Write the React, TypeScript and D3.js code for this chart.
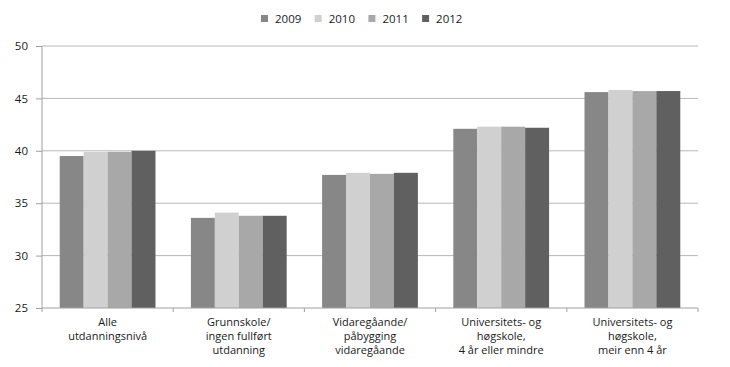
import React, { useEffect, useRef } from 'react';
import * as d3 from 'd3';

// chart data
const categories = [
  ['Alle', 'utdanningsnivå'],
  ['Grunnskole/', 'ingen fullført', 'utdanning'],
  ['Vidaregåande/', 'påbygging', 'vidaregåande'],
  ['Universitets- og', 'høgskole,', '4 år eller mindre'],
  ['Universitets- og', 'høgskole,', 'meir enn 4 år'],
];
const years = ['2009', '2010', '2011', '2012'];
const values2009 = [39.5, 33.6, 37.7, 42.1, 45.6];
const values2010 = [39.9, 34.1, 37.9, 42.3, 45.8];
const values2011 = [39.9, 33.8, 37.8, 42.3, 45.7];
const values2012 = [40.0, 33.8, 37.9, 42.2, 45.7];
const yTicks = [25, 30, 35, 40, 45, 50];
const colors = ['#888787', '#d0d0d0', '#a8a8a8', '#606060'];

const W = 730;
const H = 367;
const FONT = '"Open Sans", "Noto Sans", sans-serif';

export default function App() {
  const ref = useRef<SVGSVGElement>(null);

  useEffect(() => {
    const svg = d3.select(ref.current);
    svg.selectAll('*').remove();

    const margin = { top: 46, right: 32, bottom: 59, left: 42 };
    const width = W - margin.left - margin.right;
    const height = H - margin.top - margin.bottom;
    const series = [values2009, values2010, values2011, values2012];

    const x0 = d3.scaleBand<number>()
      .domain(categories.map((_, i) => i))
      .range([0, width])
      .paddingInner(0.27)
      .paddingOuter(0.135);
    const x1 = d3.scaleBand<number>()
      .domain(years.map((_, i) => i))
      .range([0, x0.bandwidth()]);
    const y = d3.scaleLinear().domain([25, 50]).range([height, 0]);

    const g = svg.append('g')
      .attr('transform', 'translate(' + margin.left + ',' + margin.top + ')');

    // gridlines
    g.selectAll('.grid')
      .data(yTicks.slice(1))
      .enter().append('line')
      .attr('x1', 0).attr('x2', width)
      .attr('y1', d => y(d)).attr('y2', d => y(d))
      .attr('stroke', '#b8b8b8').attr('stroke-width', 1);

    // bars
    const grp = g.selectAll('.grp')
      .data(categories)
      .enter().append('g')
      .attr('transform', (_, i) => 'translate(' + x0(i) + ',0)');
    grp.selectAll('rect')
      .data((_, i) => series.map((s, k) => ({ k, v: s[i] })))
      .enter().append('rect')
      .attr('x', d => x1(d.k)!)
      .attr('width', x1.bandwidth())
      .attr('y', d => y(d.v))
      .attr('height', d => height - y(d.v))
      .attr('fill', d => colors[d.k]);

    // y axis
    const yAxis = g.append('g')
      .call(d3.axisLeft(y).tickValues(yTicks).tickSize(6).tickPadding(8));
    yAxis.select('.domain').attr('stroke', '#a0a0a0').attr('d', 'M0,' + height + 'V0');
    yAxis.selectAll('line').attr('stroke', '#a0a0a0');
    yAxis.selectAll('text')
      .style('font-family', FONT).style('font-size', '11.5px').attr('fill', '#1a1a1a');

    // x axis
    const xa = g.append('g').attr('transform', 'translate(0,' + height + ')');
    xa.append('line').attr('x1', 0).attr('x2', width)
      .attr('stroke', '#a0a0a0');
    const step = width / categories.length;
    xa.selectAll('.tick')
      .data(d3.range(categories.length + 1))
      .enter().append('line')
      .attr('x1', d => d * step)
      .attr('x2', d => d * step)
      .attr('y1', 0).attr('y2', 4)
      .attr('stroke', '#a0a0a0');

    const labels = xa.selectAll('.lbl')
      .data(categories)
      .enter().append('text')
      .attr('x', (_, i) => x0(i)! + x0.bandwidth() / 2)
      .attr('y', 17.5)
      .attr('text-anchor', 'middle')
      .style('font-family', FONT).style('font-size', '11px')
      .attr('fill', '#1a1a1a');
    labels.selectAll('tspan')
      .data(d => d)
      .enter().append('tspan')
      .attr('x', function () { return d3.select((this as any).parentNode).attr('x'); })
      .attr('dy', (_, j) => (j === 0 ? 0 : 14.3))
      .text(d => d);

    // legend
    const legend = svg.append('g').attr('transform', 'translate(261,14)');
    const item = legend.selectAll('g')
      .data(years)
      .enter().append('g')
      .attr('transform', (_, i) => 'translate(' + i * 53.7 + ',0)');
    item.append('rect')
      .attr('width', 7).attr('height', 7).attr('y', 1)
      .attr('fill', (_, i) => colors[i]);
    item.append('text')
      .attr('x', 14).attr('y', 8.5)
      .style('font-family', FONT).style('font-size', '11.5px')
      .attr('fill', '#1a1a1a')
      .text(d => d);
  }, []);

  return (
    <svg ref={ref} width={W} height={H}
      style={{ position: 'absolute', left: 0, top: 0, background: '#fff' }} />
  );
}
